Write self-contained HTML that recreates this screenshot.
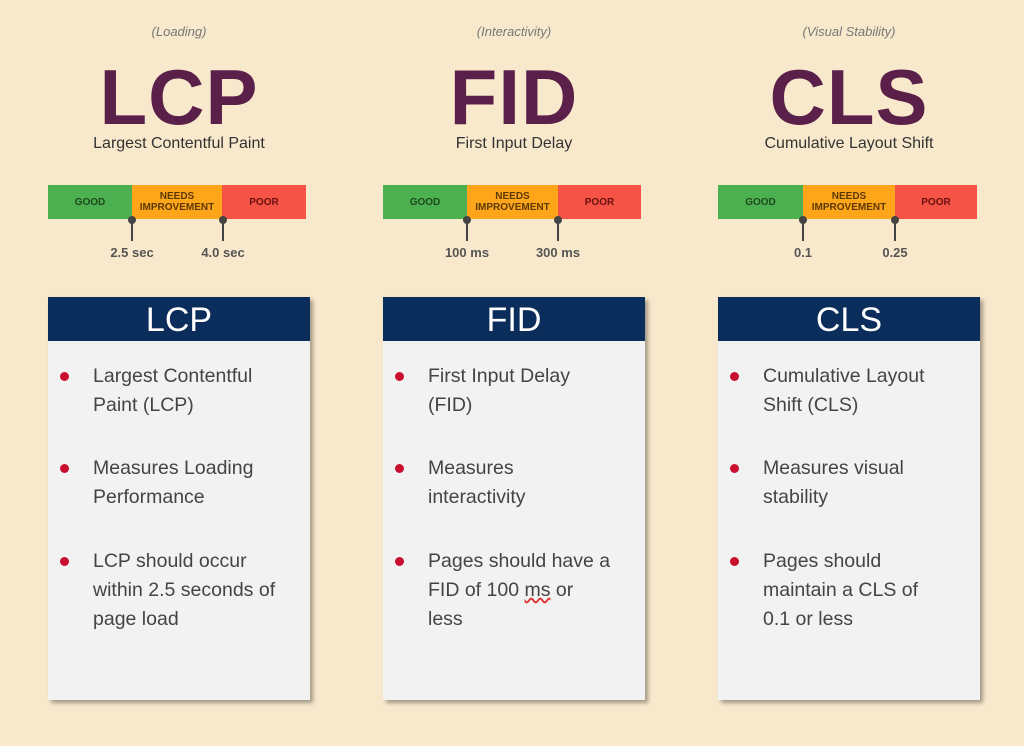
<!DOCTYPE html>
<html><head><style>
body{margin:0;width:1024px;height:746px;background:#f9e9cc;font-family:"Liberation Sans",sans-serif;position:relative;overflow:hidden}
.a{position:absolute}
.sm{font-style:italic;font-size:13px;color:#777;text-align:center;width:262px}
.big{font-size:78px;font-weight:bold;color:#5b2049;text-align:center;width:262px;letter-spacing:1px}
.sub{font-size:16px;color:#333;text-align:center;width:262px}
.bar{height:34px;display:flex;font-weight:bold;font-size:10px;line-height:11px;text-align:center}
.bar div{display:flex;align-items:center;justify-content:center}
.g{background:#4caf50;color:#1d4a1d}.n{background:#ffa51a;color:#5a3a00}.p{background:#f45346;color:#6a1010}
.tick{width:2px;height:22px;background:#444}
.tick:before{content:"";position:absolute;left:-3px;top:-3px;width:8px;height:8px;border-radius:50%;background:#444}
.tl{font-size:13px;color:#555;font-weight:bold;width:80px;text-align:center}
.card{width:262px;height:403px;background:#f2f2f2;box-shadow:3px 3px 4px rgba(0,0,0,.35)}
.hd{height:44px;background:#0b2d5b;color:#fff;font-size:34px;text-align:center;line-height:46px}
.li{position:absolute;left:45px;font-size:19.5px;line-height:29px;color:#444;white-space:nowrap}
.li:before{content:"";position:absolute;left:-33px;top:10px;width:9px;height:9px;border-radius:50%;background:#c8102e}
</style></head><body>
<div class="a sm" style="left:48px;top:24px">(Loading)</div>
<div class="a sm" style="left:383px;top:24px">(Interactivity)</div>
<div class="a sm" style="left:718px;top:24px">(Visual Stability)</div>
<div class="a big" style="left:48px;top:52px">LCP</div>
<div class="a big" style="left:383px;top:52px">FID</div>
<div class="a big" style="left:718px;top:52px">CLS</div>
<div class="a sub" style="left:48px;top:135px">Largest Contentful Paint</div>
<div class="a sub" style="left:383px;top:135px">First Input Delay</div>
<div class="a sub" style="left:718px;top:135px">Cumulative Layout Shift</div>

<div class="a bar" style="left:48px;top:185px;width:258px"><div class="g" style="width:84px">GOOD</div><div class="n" style="width:90px">NEEDS<br>IMPROVEMENT</div><div class="p" style="width:84px">POOR</div></div>
<div class="a bar" style="left:383px;top:185px;width:258px"><div class="g" style="width:84px">GOOD</div><div class="n" style="width:91px">NEEDS<br>IMPROVEMENT</div><div class="p" style="width:83px">POOR</div></div>
<div class="a bar" style="left:718px;top:185px;width:259px"><div class="g" style="width:85px">GOOD</div><div class="n" style="width:92px">NEEDS<br>IMPROVEMENT</div><div class="p" style="width:82px">POOR</div></div>

<div class="a tick" style="left:131px;top:219px"></div><div class="a tick" style="left:222px;top:219px"></div>
<div class="a tick" style="left:466px;top:219px"></div><div class="a tick" style="left:557px;top:219px"></div>
<div class="a tick" style="left:802px;top:219px"></div><div class="a tick" style="left:894px;top:219px"></div>
<div class="a tl" style="left:92px;top:245px">2.5 sec</div><div class="a tl" style="left:183px;top:245px">4.0 sec</div>
<div class="a tl" style="left:427px;top:245px">100 ms</div><div class="a tl" style="left:518px;top:245px">300 ms</div>
<div class="a tl" style="left:763px;top:245px">0.1</div><div class="a tl" style="left:855px;top:245px">0.25</div>

<div class="a card" style="left:48px;top:297px"><div class="hd">LCP</div>
<div class="li" style="top:65px">Largest Contentful<br>Paint (LCP)</div>
<div class="li" style="top:157px">Measures Loading<br>Performance</div>
<div class="li" style="top:250px">LCP should occur<br>within 2.5 seconds of<br>page load</div></div>
<div class="a card" style="left:383px;top:297px"><div class="hd">FID</div>
<div class="li" style="top:65px">First Input Delay<br>(FID)</div>
<div class="li" style="top:157px">Measures<br>interactivity</div>
<div class="li" style="top:250px">Pages should have a<br>FID of 100 <span style="text-decoration:underline wavy #d33">ms</span> or<br>less</div></div>
<div class="a card" style="left:718px;top:297px"><div class="hd">CLS</div>
<div class="li" style="top:65px">Cumulative Layout<br>Shift (CLS)</div>
<div class="li" style="top:157px">Measures visual<br>stability</div>
<div class="li" style="top:250px">Pages should<br>maintain a CLS of<br>0.1 or less</div></div>
</body></html>
